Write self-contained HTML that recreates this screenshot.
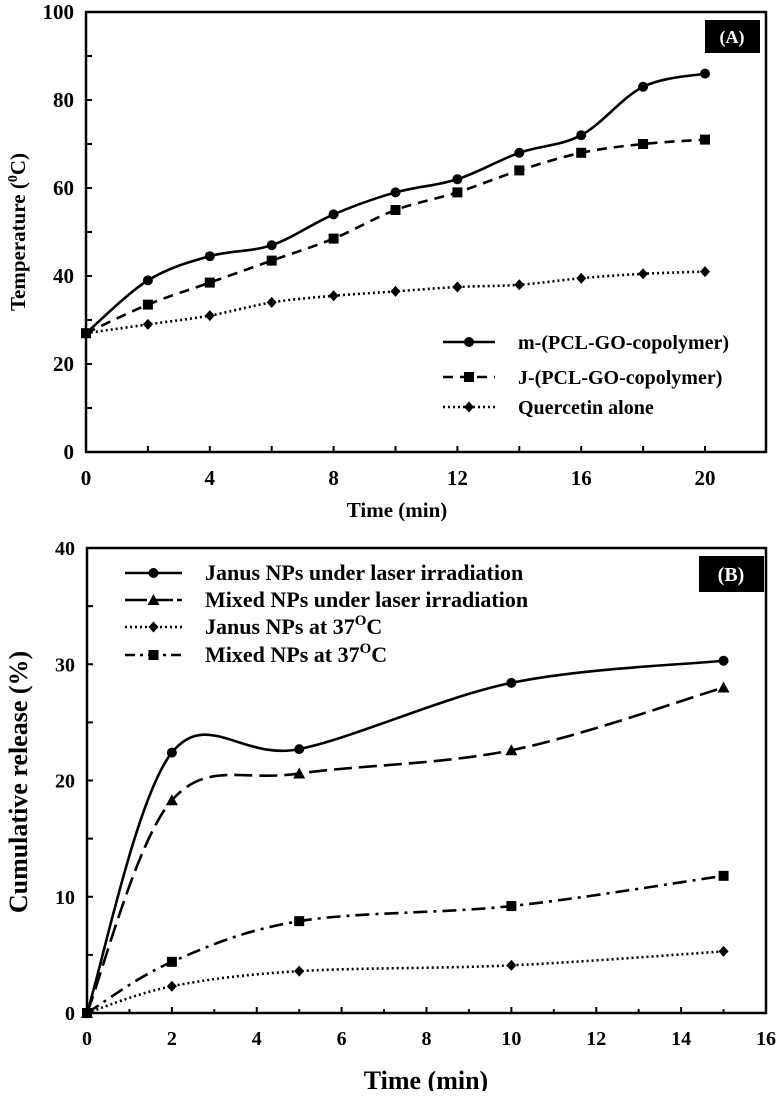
<!DOCTYPE html>
<html><head><meta charset="utf-8"><style>
body{margin:0;background:#fff}
svg text{font-family:"Liberation Serif",serif;font-weight:bold;fill:#000}
</style></head><body>
<svg id="c" width="779" height="1091"></svg>
<script>
const aX=[0,2,4,6,8,10,12,14,16,18,20];
const aM=[27,39,44.5,47,54,59,62,68,72,83,86];
const aJ=[27,33.5,38.5,43.5,48.5,55,59,64,68,70,71];
const aQ=[27,29,31,34,35.5,36.5,37.5,38,39.5,40.5,41];
const aXTicks=[0,4,8,12,16,20];
const aYTicks=[0,20,40,60,80,100];
const bX=[0,2,5,10,15];
const bJL=[0,22.4,22.7,28.4,30.3];
const bML=[0,18.3,20.6,22.6,28];
const bJ37=[0,2.3,3.6,4.1,5.3];
const bM37=[0,4.4,7.9,9.2,11.8];
const bXTicks=[0,2,4,6,8,10,12,14,16];
const bYTicks=[0,10,20,30,40];

const NS="http://www.w3.org/2000/svg";
const svg=document.getElementById('c');
function mk(t,a,p){const e=document.createElementNS(NS,t);for(const k in a)e.setAttribute(k,a[k]);(p||svg).appendChild(e);return e;}
function txt(s,x,y,size,anchor,extra){const e=mk('text',Object.assign({x:x,y:y,'font-size':size,'text-anchor':anchor||'middle'},extra||{}));e.textContent=s;return e;}
function smooth(pts){let d='M'+pts[0][0]+','+pts[0][1];for(let i=0;i<pts.length-1;i++){const p0=pts[i-1]||pts[i],p1=pts[i],p2=pts[i+1],p3=pts[i+2]||p2;const t=6;d+=' C'+(p1[0]+(p2[0]-p0[0])/t)+','+(p1[1]+(p2[1]-p0[1])/t)+' '+(p2[0]-(p3[0]-p1[0])/t)+','+(p2[1]-(p3[1]-p1[1])/t)+' '+p2[0]+','+p2[1];}return d;}
function marker(type,x,y,g){
 if(type==='circle')return mk('circle',{cx:x,cy:y,r:5,fill:'#000'},g);
 if(type==='square')return mk('rect',{x:x-5,y:y-5,width:10,height:10,fill:'#000'},g);
 if(type==='diamond')return mk('polygon',{points:`${x},${y-5.5} ${x+5},${y} ${x},${y+5.5} ${x-5},${y}`,fill:'#000'},g);
 if(type==='tri')return mk('polygon',{points:`${x},${y-6} ${x+6},${y+5} ${x-6},${y+5}`,fill:'#000'},g);
}
function series(xs,ys,fx,fy,dash,mt,name){
 const g=mk('g',{});
 
 
 const pts=xs.map((v,i)=>[fx(v),fy(ys[i])]);
 mk('path',{d:smooth(pts),fill:'none',stroke:'#000','stroke-width':2.6,'stroke-dasharray':dash},g);
 pts.forEach(p=>marker(mt,p[0],p[1],g));
}
function legend(y,x1,x2,tx,dash,mt,label,size,name){
 const g=mk('g',{});
 
 
 mk('line',{x1:x1,y1:y,x2:x2,y2:y,stroke:'#000','stroke-width':2.6,'stroke-dasharray':dash},g);
 marker(mt,(x1+x2)/2,y,g);
 const t=txt(label,tx,y+7,size,'start');g.appendChild(t);
 return t;
}
// Panel A
const A={l:86,r:766,t:12,b:452,x0:86,x1:705};
const ax=v=>A.x0+(A.x1-A.x0)*v/20, ay=v=>A.b-(A.b-A.t)*v/100;
mk('rect',{x:A.l,y:A.t,width:A.r-A.l,height:A.b-A.t,fill:'none',stroke:'#000','stroke-width':2.5,});
for(let v=0;v<=20;v+=2)mk('line',{x1:ax(v),y1:A.b,x2:ax(v),y2:A.b-6,stroke:'#000','stroke-width':2});
for(let v=0;v<=100;v+=10)mk('line',{x1:A.l,y1:ay(v),x2:A.l+6,y2:ay(v),stroke:'#000','stroke-width':2});
aXTicks.forEach(v=>txt(v,ax(v),485,21));
aYTicks.forEach(v=>txt(v,A.l-12,ay(v)+7,21,'end'));
txt('Time (min)',397,517,21);
const ta=txt('',0,0,21,'middle',{transform:`translate(25,232) rotate(-90)`});
ta.innerHTML='Temperature (<tspan font-size="14" dy="-8">0</tspan><tspan dy="8">C)</tspan>';
series(aX,aQ,ax,ay,'2 3','diamond','series-quercetin');
series(aX,aJ,ax,ay,'10 7','square','series-j-pcl');
series(aX,aM,ax,ay,'','circle','series-m-pcl');
legend(342,443,495,518,'','circle','m-(PCL-GO-copolymer)',20,'legend-m');
legend(377,443,495,518,'10 7','square','J-(PCL-GO-copolymer)',20,'legend-j');
legend(407,443,495,518,'2 3','diamond','Quercetin alone',20,'legend-q');
mk('rect',{x:705,y:20,width:55,height:33,fill:'#000',});
txt('(A)',732,43,18,'middle',{style:'fill:#fff'});
// Panel B
const B={l:87,r:766,t:548,b:1013,x0:87,x1:766};
const bx=v=>B.x0+(B.x1-B.x0)*v/16, by=v=>B.b-(B.b-B.t)*v/40;
mk('rect',{x:B.l,y:B.t,width:B.r-B.l,height:B.b-B.t,fill:'none',stroke:'#000','stroke-width':2.5,});
for(let v=0;v<=16;v+=1)mk('line',{x1:bx(v),y1:B.b,x2:bx(v),y2:B.b-(v%2?4:6),stroke:'#000','stroke-width':2});
for(let v=0;v<=40;v+=5)mk('line',{x1:B.l,y1:by(v),x2:B.l+6,y2:by(v),stroke:'#000','stroke-width':2});
bXTicks.forEach(v=>txt(v,bx(v),1045,20));
bYTicks.forEach(v=>txt(v,B.l-12,by(v)+7,20,'end'));
txt('Time (min)',426,1089,26);
const tb=txt('Cumulative release (%)',0,0,26,'middle',{transform:`translate(27,782) rotate(-90)`});
series(bX,bJ37,bx,by,'2 3','diamond','series-janus-37');
series(bX,bM37,bx,by,'14 6 3 6','square','series-mixed-37');
series(bX,bML,bx,by,'18 7','tri','series-mixed-laser');
series(bX,bJL,bx,by,'','circle','series-janus-laser');
legend(573,125,182,205,'','circle','Janus NPs under laser irradiation',22,'legend-janus-laser');
legend(600,125,182,205,'22 4','tri','Mixed NPs under laser irradiation',22,'legend-mixed-laser');
legend(627,125,182,205,'2 3','diamond','Janus NPs at 37',22,'legend-janus-37').innerHTML='Janus NPs at 37<tspan font-size="15" dy="-9">O</tspan><tspan dy="9">C</tspan>';
legend(655,125,182,205,'10 5 3 5','square','Mixed NPs at 37',22,'legend-mixed-37').innerHTML='Mixed NPs at 37<tspan font-size="15" dy="-9">O</tspan><tspan dy="9">C</tspan>';
mk('rect',{x:699,y:556,width:65,height:36,fill:'#000',});
txt('(B)',731,581,20,'middle',{style:'fill:#fff'});
</script>
</body></html>
